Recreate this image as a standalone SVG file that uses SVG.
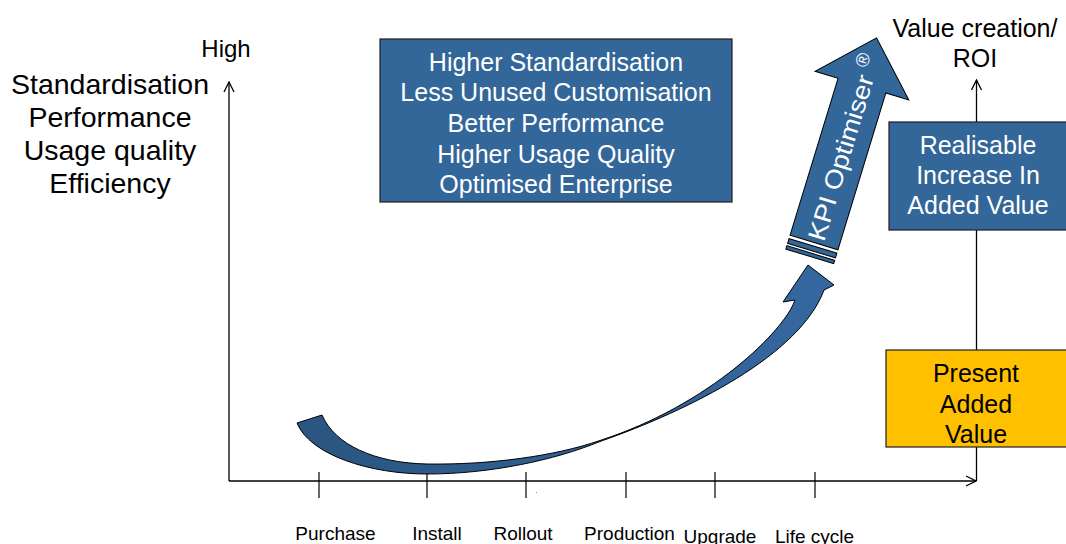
<svg xmlns="http://www.w3.org/2000/svg" width="1066" height="544" viewBox="0 0 1066 544">
<defs>
<style>
text{font-family:"Liberation Sans",Arial,sans-serif}
.ax{stroke:#000;stroke-width:1.3;fill:none}
.tk{stroke:#000;stroke-width:1.2}
.lt{font-size:28.5px;fill:#000;text-anchor:middle}
.box{fill:#336699;stroke:#1e1e1e;stroke-width:1.2}
.wt{font-size:25px;fill:#fff;text-anchor:middle}
.bt{font-size:25px;fill:#000;text-anchor:middle}
.xl{font-size:19px;fill:#000;text-anchor:middle}
.arr{stroke:#000;stroke-width:1}
</style>
<linearGradient id="g" gradientUnits="userSpaceOnUse" x1="300" y1="0" x2="830" y2="0">
<stop offset="0" stop-color="#2a5580"/><stop offset="1" stop-color="#3568a0"/>
</linearGradient>
<marker id="ah" viewBox="0 0 12 12" refX="11" refY="6" markerWidth="12" markerHeight="12" markerUnits="userSpaceOnUse" orient="auto">
<path d="M1,1 L11,6 L1,11" fill="none" stroke="#000" stroke-width="1.3"/>
</marker>
</defs>
<rect width="1066" height="544" fill="#fff"/>

<g id="connectors">
<path class="ax" d="M229,481 L229,82" marker-end="url(#ah)"/>
<path class="ax" d="M229,481 L976,481" marker-end="url(#ah)"/>
<path class="ax" d="M976.5,481 L976.5,80" marker-end="url(#ah)"/>
<line class="tk" x1="319" y1="472" x2="319" y2="498"/>
<line class="tk" x1="427" y1="472" x2="427" y2="498"/>
<line class="tk" x1="526" y1="472" x2="526" y2="498"/>
<line class="tk" x1="626" y1="472" x2="626" y2="498"/>
<line class="tk" x1="715" y1="472" x2="715" y2="498"/>
<line class="tk" x1="815" y1="472" x2="815" y2="498"/>
<rect x="536" y="492" width="1" height="1" fill="#888"/>
</g>

<g id="axis-labels">
<text x="226" y="57" font-size="24" text-anchor="middle">High</text>
<text class="lt" x="110" y="94">Standardisation</text>
<text class="lt" x="110" y="127">Performance</text>
<text class="lt" x="110" y="160">Usage quality</text>
<text class="lt" x="110" y="193">Efficiency</text>
<text class="bt" x="975" y="36.5">Value creation/</text>
<text class="bt" x="975" y="66.5">ROI</text>
<text class="xl" x="335.5" y="540">Purchase</text>
<text class="xl" x="437" y="540">Install</text>
<text class="xl" x="523" y="540">Rollout</text>
<text class="xl" x="629.5" y="540">Production</text>
<text class="xl" x="720" y="542.5">Upgrade</text>
<text class="xl" x="814.5" y="542.5">Life cycle</text>
</g>

<g id="curved-arrow">
<path class="arr" fill="url(#g)" d="M297,423 C310,455 370,474 427,474 C490,474 555,460 600,441.5 C690,410 800,355 824,290 L834,285 L808,265 L783,302 L795,300 C785,330 710,405 600,440.5 C555,456 490,465 427,464 C375,463 335,445 322,415 Z"/>
</g>

<g id="kpi-optimiser" transform="translate(814,242.5) rotate(17)">
<path class="arr" fill="#336699" d="M-25,0 L-25,-164 L-49,-164 L0,-214 L49,-164 L25,-164 L25,0 Z"/>
<rect class="arr" fill="#336699" x="-25" y="3.5" width="50" height="5"/>
<rect class="arr" fill="#336699" x="-25" y="11" width="50" height="3.5"/>
<text transform="translate(9.5,-3) rotate(-90)" font-size="25" fill="#fff" textLength="172" lengthAdjust="spacingAndGlyphs">KPI Optimiser</text>
<text transform="translate(-0.2,-182) rotate(-90)" font-size="19" fill="#fff">®</text>
</g>

<g id="benefits-box">
<rect class="box" x="380" y="39" width="352" height="163"/>
<text class="wt" x="556" y="70.5">Higher Standardisation</text>
<text class="wt" x="556" y="101">Less Unused Customisation</text>
<text class="wt" x="556" y="132">Better Performance</text>
<text class="wt" x="556" y="162.5">Higher Usage Quality</text>
<text class="wt" x="556" y="193">Optimised Enterprise</text>
</g>

<g id="realisable-box">
<rect class="box" x="889" y="122" width="190" height="108"/>
<text class="wt" x="978" y="154">Realisable</text>
<text class="wt" x="978" y="184.3">Increase In</text>
<text class="wt" x="978" y="213.5">Added Value</text>
</g>

<g id="present-box">
<rect x="886" y="350" width="190" height="97" fill="#FFC000" stroke="#1e1e1e" stroke-width="1.2"/>
<text class="bt" x="976" y="381.5">Present</text>
<text class="bt" x="976" y="412.5">Added</text>
<text class="bt" x="976" y="443">Value</text>
</g>
</svg>
